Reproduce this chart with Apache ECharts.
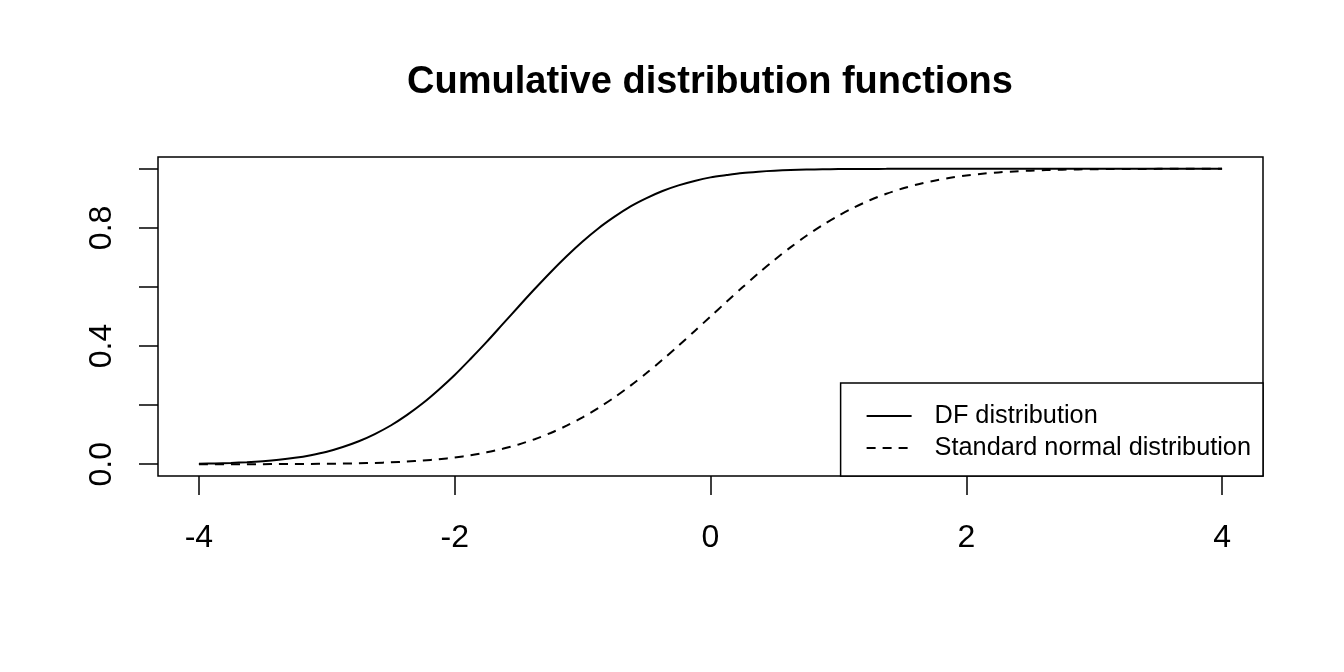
<!DOCTYPE html>
<html>
<head>
<meta charset="utf-8">
<script src="https://cdn.jsdelivr.net/npm/echarts@6/dist/echarts.min.js"></script>
<style>
html,body{margin:0;padding:0;background:#fff;}
#chart{width:1344px;height:672px;}
</style>
</head>
<body>
<div id="chart"></div>
<script>
var titleText = 'Cumulative distribution functions';
var seriesNames = ['DF distribution', 'Standard normal distribution'];
var xValues = [-4, -3.875, -3.75, -3.625, -3.5, -3.375, -3.25, -3.125, -3, -2.875, -2.75, -2.625, -2.5, -2.375, -2.25, -2.125,
               -2, -1.875, -1.75, -1.625, -1.5, -1.375, -1.25, -1.125, -1, -0.875, -0.75, -0.625, -0.5, -0.375, -0.25, -0.125,
               0, 0.125, 0.25, 0.375, 0.5, 0.625, 0.75, 0.875, 1, 1.125, 1.25, 1.375, 1.5, 1.625, 1.75, 1.875,
               2, 2.125, 2.25, 2.375, 2.5, 2.625, 2.75, 2.875, 3, 3.125, 3.25, 3.375, 3.5, 3.625, 3.75, 3.875, 4];
var dfValues = [0.0017, 0.0027, 0.0043, 0.0066, 0.010, 0.0148, 0.0215, 0.0305, 0.042, 0.058, 0.0775, 0.102, 0.131, 0.166, 0.206, 0.252,
                0.302, 0.357, 0.414, 0.474, 0.534, 0.593, 0.650, 0.704, 0.754, 0.799, 0.838, 0.873, 0.901, 0.925, 0.944, 0.959,
                0.971, 0.979, 0.986, 0.9904, 0.9937, 0.9959, 0.9974, 0.9984, 0.999, 0.9994, 0.9997, 0.9998, 0.9999, 0.9999, 1.0, 1.0,
                1.0, 1.0, 1.0, 1.0, 1.0, 1.0, 1.0, 1.0, 1.0, 1.0, 1.0, 1.0, 1.0, 1.0, 1.0, 1.0, 1.0];
var normalValues = [0.00003, 0.00005, 0.00009, 0.00014, 0.0002, 0.00037, 0.0006, 0.00089, 0.0013, 0.002, 0.003, 0.0043, 0.0062, 0.0088, 0.0122, 0.0168,
                    0.0228, 0.0304, 0.0401, 0.0521, 0.0668, 0.0846, 0.1056, 0.1303, 0.1587, 0.1908, 0.2266, 0.266, 0.3085, 0.3538, 0.4013, 0.4503,
                    0.5, 0.5497, 0.5987, 0.6462, 0.6915, 0.734, 0.7734, 0.8092, 0.8413, 0.8697, 0.8944, 0.9154, 0.9332, 0.9479, 0.9599, 0.9696,
                    0.9772, 0.9832, 0.9878, 0.9912, 0.9938, 0.9957, 0.997, 0.998, 0.9987, 0.9991, 0.9994, 0.9996, 0.9998, 0.9999, 0.9999, 0.99995, 1.0];
var xTicks = [-4, -2, 0, 2, 4];
var yTicks = [0, 0.2, 0.4, 0.6, 0.8, 1.0];
var yTickLabels = [0, 0.4, 0.8];

var FONT = '"Liberation Sans", Arial, Helvetica, sans-serif';
function pairs(xs, ys){ return xs.map(function(x,i){ return [x, ys[i]]; }); }

var chart = echarts.init(document.getElementById('chart'), null, {renderer:'canvas'});
chart.setOption({
  animation: false,
  backgroundColor: '#ffffff',
  title: {
    text: titleText,
    left: 705, top: 59, textAlign: 'center',
    textStyle: {fontFamily: FONT, fontSize: 38, fontWeight: 'bold', color: '#000'}
  },
  grid: {left: 158, right: 81, top: 157, bottom: 196, show: true, borderColor: '#000', borderWidth: 1.5, backgroundColor: 'transparent'},
  xAxis: {
    type: 'value', min: -4.32, max: 4.32,
    axisLine: {show: false, onZero: false},
    splitLine: {show: false},
    axisTick: {show: true, inside: false, length: 19, customValues: xTicks, lineStyle: {color: '#000', width: 1.5}},
    axisLabel: {show: true, customValues: xTicks, margin: 46, fontFamily: FONT, fontSize: 32, color: '#000',
      formatter: function(v){ return String(v); }}
  },
  yAxis: {
    type: 'value', min: -0.04, max: 1.04,
    axisLine: {show: false, onZero: false},
    splitLine: {show: false},
    axisTick: {show: true, inside: false, length: 19, customValues: yTicks, lineStyle: {color: '#000', width: 1.5}},
    axisLabel: {show: true, customValues: yTickLabels, rotate: 90, margin: 40, fontFamily: FONT, fontSize: 32, color: '#000',
      formatter: function(v){ return v.toFixed(1); }}
  },
  legend: {
    orient: 'vertical',
    right: 81, bottom: 196,
    data: seriesNames,
    backgroundColor: '#fff',
    borderColor: '#000', borderWidth: 1.5, borderRadius: 0,
    padding: [20, 12, 15, 25],
    itemWidth: 45, itemHeight: 14, itemGap: 6,
    itemStyle: {color: 'rgba(0,0,0,0)', borderColor: 'rgba(0,0,0,0)', borderWidth: 0},
    textStyle: {fontFamily: FONT, fontSize: 25.3, color: '#000', lineHeight: 26, padding: [0,0,0,18]},
    selectedMode: false
  },
  series: [
    {name: seriesNames[0], type: 'line', data: pairs(xValues, dfValues), smooth: 0.3,
     symbol: 'none', lineStyle: {color: '#000', width: 2, type: 'solid'}, itemStyle: {color: '#000'}, z: 1},
    {name: seriesNames[1], type: 'line', data: pairs(xValues, normalValues), smooth: 0.3,
     symbol: 'none', lineStyle: {color: '#000', width: 2, type: [9, 7]}, itemStyle: {color: '#000'}, z: 1}
  ]
});
</script>
</body>
</html>
